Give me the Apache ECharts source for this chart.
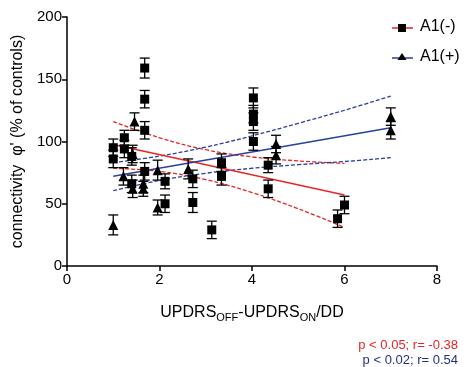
<!DOCTYPE html>
<html><head><meta charset="utf-8">
<script src="https://cdn.jsdelivr.net/npm/echarts@6/dist/echarts.min.js"></script>
<style>html,body{margin:0;padding:0;background:#fff}#c{width:464px;height:367px}</style>
</head><body><div id="c"></div>
<script>
// A1(-) squares
const negX   = [1.0, 1.0, 1.24, 1.24, 1.4, 1.4, 1.68, 1.68, 1.68, 1.68, 2.12, 2.12, 2.72, 2.72, 3.13, 3.34, 3.34, 4.03, 4.03, 4.03, 4.03, 4.35, 4.35, 5.85, 6.0];
const negY   = [95, 86, 103, 94, 88, 66, 159, 134, 109, 76, 68, 50, 70, 51, 29, 83, 72, 135, 122, 116, 100, 81, 62, 38, 49];
const negErr = [7, 7, 6, 7, 7, 7, 8, 7, 7, 7, 6, 7, 7, 8, 7, 7, 7, 8, 7, 7, 7, 6, 7, 7, 7];
// A1(+) triangles
const posX   = [1.0, 1.22, 1.42, 1.42, 1.46, 1.65, 1.65, 1.96, 1.96, 2.62, 4.52, 4.52, 7.0, 7.0];
const posY   = [33, 72, 90, 62, 116, 66, 62, 77, 47, 78, 98, 89, 120, 109];
const posErr = [8, 7, 7, 7, 7, 7, 6, 8, 6, 8, 7, 7, 7, 7];
// regression lines and 95% bands
const negFit = [[1.07, 97], [6.0, 57]];
const negBandX = [1.0, 2.0, 3.0, 4.0, 5.0, 6.0];
const negUpper = [116, 103, 93.4, 87.6, 84.4, 82.4];
const negLower = [78.5, 76, 69.4, 59, 46, 31];
const posFit = [[1.0, 72], [7.0, 111]];
const posBandX = [1.0, 2.0, 3.0, 4.0, 5.0, 6.0, 7.0];
const posUpper = [83, 88.3, 95.5, 104.5, 114.6, 125.1, 136.5];
const posLower = [60.5, 68.7, 74.5, 78.5, 81.4, 83.9, 87];
const xTicks = [0, 2, 4, 6, 8];
const yTicks = [0, 50, 100, 150, 200];

const RED = '#e8262a', BLUE = '#2b3fa0', NAVY = '#262f86';
const FONT = 'Liberation Sans, Arial, Helvetica, sans-serif';

function zip(xs, ys) { return xs.map((x, i) => [x, ys[i]]); }
function errData(xs, ys, es) { return xs.map((x, i) => [x, ys[i] - es[i], ys[i] + es[i]]); }
function errRender(params, api) {
  const x = api.value(0);
  const lo = api.coord([x, api.value(1)]);
  const hi = api.coord([x, api.value(2)]);
  const w = 5;
  const st = { stroke: '#000', lineWidth: 1.3 };
  return { type: 'group', children: [
    { type: 'line', shape: { x1: lo[0], y1: lo[1], x2: hi[0], y2: hi[1] }, style: st },
    { type: 'line', shape: { x1: lo[0] - w, y1: lo[1], x2: lo[0] + w, y2: lo[1] }, style: st },
    { type: 'line', shape: { x1: hi[0] - w, y1: hi[1], x2: hi[0] + w, y2: hi[1] }, style: st }
  ]};
}
function lineSeries(data, color, dashed, smooth) {
  return { type: 'line', data: data, symbol: 'none', smooth: smooth ? 0.4 : false, silent: true,
    lineStyle: { color: color, width: dashed ? 1.3 : 1.5, type: dashed ? [4, 2] : 'solid' }, z: 3 };
}

const chart = echarts.init(document.getElementById('c'), null, { renderer: 'canvas' });
chart.setOption({
  animation: false,
  textStyle: { fontFamily: FONT },
  grid: { left: 67, right: 27, top: 17, bottom: 101 },
  xAxis: {
    type: 'value', min: 0, max: 8, interval: 2,
    axisLine: { show: true, lineStyle: { color: '#000', width: 1.5 } },
    axisTick: { show: true, length: 5, lineStyle: { color: '#000', width: 1.5 } },
    axisLabel: { color: '#000', fontSize: 15, margin: 6, fontFamily: FONT,
      formatter: v => xTicks.includes(v) ? String(v) : '' },
    splitLine: { show: false },
    name: '{m|UPDRS}{s|OFF}{m|-UPDRS}{s|ON}{m|/DD}', nameLocation: 'middle', nameGap: 36,
    nameTextStyle: { rich: {
      m: { fontSize: 16, color: '#000', fontFamily: FONT },
      s: { fontSize: 11, color: '#000', fontFamily: FONT, padding: [10, 0, 0, 0] }
    } }
  },
  yAxis: {
    type: 'value', min: 0, max: 200, interval: 50,
    axisLine: { show: true, lineStyle: { color: '#000', width: 1.5 } },
    axisTick: { show: true, length: 5, lineStyle: { color: '#000', width: 1.5 } },
    axisLabel: { color: '#000', fontSize: 15, margin: 5, fontFamily: FONT,
      formatter: v => yTicks.includes(v) ? String(v) : '' },
    splitLine: { show: false },
    name: "connectivity  φ' (% of controls)", nameLocation: 'middle', nameGap: 34,
    nameTextStyle: { color: '#000', fontSize: 16, fontFamily: FONT }
  },
  series: [
    lineSeries(zip(negBandX, negUpper), RED, true, true),
    lineSeries(zip(negBandX, negLower), RED, true, true),
    lineSeries(zip(posBandX, posUpper), BLUE, true, true),
    lineSeries(zip(posBandX, posLower), BLUE, true, true),
    lineSeries(negFit, RED, false, false),
    lineSeries(posFit, BLUE, false, false),
    { type: 'custom', renderItem: errRender, data: errData(negX, negY, negErr), encode: { x: 0, y: [1, 2] }, z: 4, silent: true },
    { type: 'custom', renderItem: errRender, data: errData(posX, posY, posErr), encode: { x: 0, y: [1, 2] }, z: 4, silent: true },
    { name: 'A1(-)', type: 'scatter', data: zip(negX, negY), symbol: 'rect', symbolSize: 9,
      itemStyle: { color: '#000', opacity: 1 }, z: 5 },
    { name: 'A1(+)', type: 'scatter', data: zip(posX, posY), symbol: 'triangle', symbolSize: 10,
      itemStyle: { color: '#000', opacity: 1 }, z: 5 }
  ],
  graphic: [
    { type: 'line', shape: { x1: 392, y1: 28, x2: 413, y2: 28 }, style: { stroke: RED, lineWidth: 1.5 } },
    { type: 'rect', shape: { x: 398, y: 24, width: 8, height: 8 }, style: { fill: '#000' } },
    { type: 'text', left: 420, top: 19, style: { text: 'A1(-)', fontSize: 16, fill: '#000', fontFamily: FONT } },
    { type: 'line', shape: { x1: 392, y1: 58, x2: 413, y2: 58 }, style: { stroke: BLUE, lineWidth: 1.5 } },
    { type: 'polygon', shape: { points: [[402, 53], [397.5, 60], [406.5, 60]] }, style: { fill: '#000' } },
    { type: 'text', left: 420, top: 49, style: { text: 'A1(+)', fontSize: 16, fill: '#000', fontFamily: FONT } },
    { type: 'text', right: 6, top: 339, style: { text: 'p < 0.05; r= -0.38', fontSize: 13, fill: RED, fontFamily: FONT } },
    { type: 'text', right: 6, top: 354, style: { text: 'p < 0.02; r= 0.54', fontSize: 13, fill: NAVY, fontFamily: FONT } }
  ]
});
</script>
</body></html>
